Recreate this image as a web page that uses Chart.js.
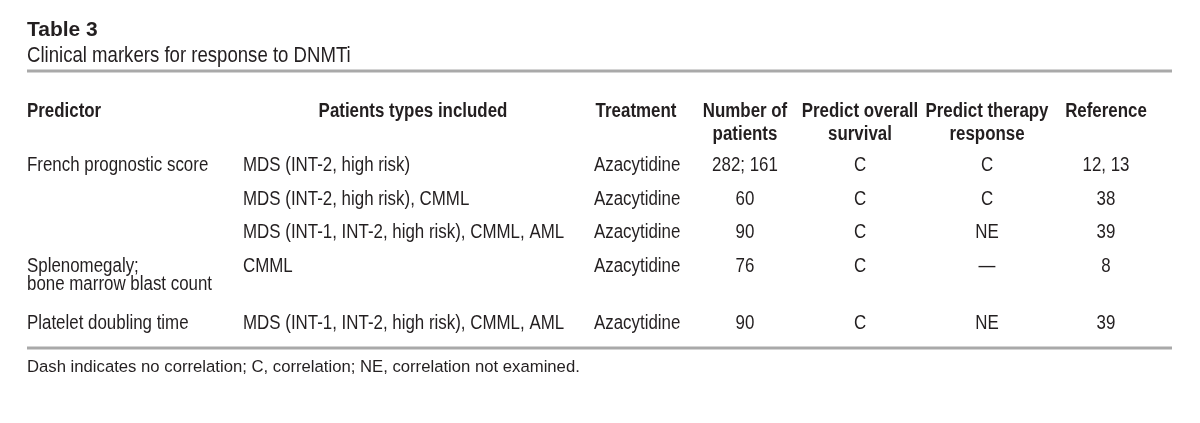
<!DOCTYPE html>
<html><head><meta charset="utf-8">
<script src="https://cdn.jsdelivr.net/npm/chart.js@4.4.1/dist/chart.umd.min.js"></script>
<style>html,body{margin:0;padding:0;background:#fff;}canvas{display:block;}</style>
</head><body>
<canvas id="c" width="1200" height="423"></canvas>
<script>
// ---- data ----
const tableTitle = "Table 3";
const tableSubtitle = "Clinical markers for response to DNMTi";
const footnote = "Dash indicates no correlation; C, correlation; NE, correlation not examined.";
const headers = [["Predictor"], ["Patients types included"], ["Treatment"], ["Number of", "patients"], ["Predict overall", "survival"], ["Predict therapy", "response"], ["Reference"]];
const predictors = [["French prognostic score"], [""], [""], ["Splenomegaly;", "bone marrow blast count"], ["Platelet doubling time"]];
const patientTypes = ["MDS (INT-2, high risk)", "MDS (INT-2, high risk), CMML", "MDS (INT-1, INT-2, high risk), CMML, AML", "CMML", "MDS (INT-1, INT-2, high risk), CMML, AML"];
const treatments = ["Azacytidine", "Azacytidine", "Azacytidine", "Azacytidine", "Azacytidine"];
const numberOfPatients = ["282; 161", "60", "90", "76", "90"];
const predictOverallSurvival = ["C", "C", "C", "C", "C"];
const predictTherapyResponse = ["C", "C", "NE", "\u2014", "NE"];
const references = ["12, 13", "38", "39", "8", "39"];

// ---- layout / style ----
const L = {
  W: 1200, H: 423,
  left: 27, right: 1172,
  colX: [27, 243, 594, 745, 860, 987, 1106],
  colAlign: ["left", "left", "left", "center", "center", "center", "center"],
  headX: [27, 413, 636, 745, 860, 987, 1106],
  headAlign: ["left", "center", "center", "center", "center", "center", "center"],
  titleY: 36, subtitleY: 62, topRuleY: 71,
  headY: 117, headStep: 23,
  firstRowY: 171, rowStep: 33.5, lineStep: 18.5, multiGap: 5.5,
  bottomRuleY: 348, footY: 372,
  ink: "#231f20", rule: "#a9a9a9",
  font: "'Liberation Sans', Arial, Helvetica, sans-serif",
  narrowScale: 0.845,
  bodySize: 20, titleSize: 21, subtitleSize: 22, footSize: 16.7
};

const columns = [predictors, patientTypes, treatments, numberOfPatients, predictOverallSurvival, predictTherapyResponse, references];
const rowY = [];
{
  let y = L.firstRowY;
  for (let r = 0; r < predictors.length; r++) {
    rowY.push(y);
    const extra = predictors[r].length - 1;
    y += L.rowStep + extra * (L.lineStep + L.multiGap);
  }
}
const asLines = v => Array.isArray(v) ? v : [v];

const datasets = columns.map((col, ci) => ({
  label: "col" + ci,
  data: col.map((v, ri) => ({ x: L.colX[ci], y: rowY[ri] })),
  pointRadius: 0, pointHoverRadius: 0, showLine: false
}));
const headerSet = {
  label: "headers",
  data: headers.map((h, ci) => ({ x: L.headX[ci], y: L.headY })),
  pointRadius: 0, pointHoverRadius: 0, showLine: false
};

function narrowText(ctx, t, x, y, sx) {
  ctx.save();
  ctx.translate(x, y);
  ctx.scale(sx, 1);
  ctx.fillText(t, 0, 0);
  ctx.restore();
}

const tablePlugin = {
  id: "tableText",
  afterDatasetsDraw(chart) {
    const ctx = chart.ctx;
    const xs = chart.scales.x, ys = chart.scales.y;
    const sx = L.narrowScale;
    ctx.save();
    ctx.textBaseline = "alphabetic";
    ctx.fillStyle = L.ink;
    ctx.textAlign = "left";
    ctx.font = "bold " + L.titleSize + "px " + L.font;
    ctx.fillText(tableTitle, xs.getPixelForValue(L.left), ys.getPixelForValue(L.titleY));
    ctx.font = L.subtitleSize + "px " + L.font;
    narrowText(ctx, tableSubtitle, xs.getPixelForValue(L.left), ys.getPixelForValue(L.subtitleY), sx);
    ctx.strokeStyle = L.rule;
    ctx.lineWidth = 3;
    [L.topRuleY, L.bottomRuleY].forEach(yv => {
      const py = ys.getPixelForValue(yv);
      ctx.beginPath();
      ctx.moveTo(xs.getPixelForValue(L.left), py);
      ctx.lineTo(xs.getPixelForValue(L.right), py);
      ctx.stroke();
    });
    const hMeta = chart.getDatasetMeta(columns.length);
    ctx.font = "bold " + L.bodySize + "px " + L.font;
    hMeta.data.forEach((el, i) => {
      ctx.textAlign = L.headAlign[i];
      headers[i].forEach((t, k) => narrowText(ctx, t, el.x, el.y + k * L.headStep, sx));
    });
    ctx.font = L.bodySize + "px " + L.font;
    columns.forEach((col, ci) => {
      const meta = chart.getDatasetMeta(ci);
      ctx.textAlign = L.colAlign[ci];
      meta.data.forEach((el, ri) => {
        asLines(col[ri]).forEach((t, k) => narrowText(ctx, t, el.x, el.y + k * L.lineStep, sx));
      });
    });
    ctx.textAlign = "left";
    ctx.font = L.footSize + "px " + L.font;
    ctx.fillText(footnote, xs.getPixelForValue(L.left), ys.getPixelForValue(L.footY));
    ctx.restore();
  }
};

new Chart(document.getElementById("c"), {
  type: "scatter",
  data: { datasets: [...datasets, headerSet] },
  options: {
    responsive: false, animation: false, devicePixelRatio: 1,
    layout: { padding: 0 },
    plugins: { legend: { display: false }, tooltip: { enabled: false }, title: { display: false } },
    events: [],
    scales: {
      x: { type: "linear", min: 0, max: L.W, display: false },
      y: { type: "linear", min: 0, max: L.H, reverse: true, display: false }
    }
  },
  plugins: [tablePlugin]
});
</script>
</body></html>
